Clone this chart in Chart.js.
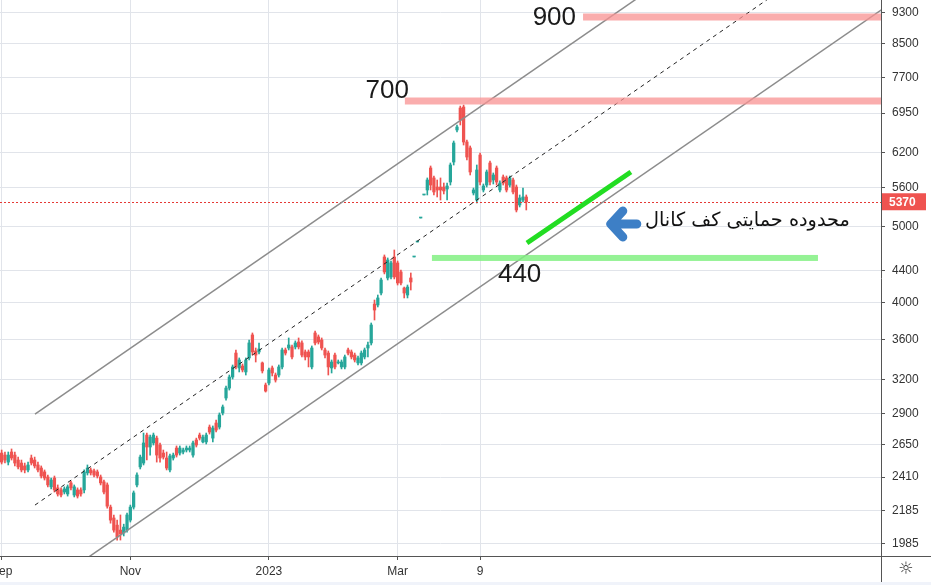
<!DOCTYPE html>
<html>
<head>
<meta charset="utf-8">
<script src="https://cdn.jsdelivr.net/npm/chart.js@4.4.1/dist/chart.umd.min.js"></script>
<style>
  html, body { margin: 0; padding: 0; background: #fff; }
  canvas { display: block; }
</style>
</head>
<body>
<canvas id="priceChart" width="931" height="585"></canvas>
<script>
// daily candles (price in rial)
const opens = [2585,2570,2518,2593,2570,2533,2511,2490,2461,2548,2533,2497,2475,2447,2411,2343,2404,2336,2322,2308,
  2295,2370,2288,2322,2322,2322,2440,2461,2454,2447,2411,2377,2356,2209,2140,2096,2066,2049,2066,2127,
  2209,2356,2483,2511,2724,2631,2662,2700,2646,2585,2548,2461,2548,2623,2585,2593,2608,2608,2570,2685,
  2724,2670,2670,2788,2700,2821,2788,2905,3034,3123,3225,3458,3311,3330,3273,3409,3645,3479,3469,3360,
  3151,3169,3311,3244,3244,3321,3489,3509,3520,3520,3571,3561,3469,3469,3321,3666,3624,3592,3489,3458,
  3311,3438,3360,3321,3321,3489,3469,3438,3360,3360,3419,3509,3561,3988,3977,4118,4573,4302,4315,4573,
  4494,4378,4178,4094,4302,4573,4777,5122,5477,5557,5924,5755,5605,5605,5605,5573,5688,6028,6617,7054,
  7074,6390,6280,5509,5397,6152,5557,5638,6011,5721,5924,5557,5771,5755,5638,5721,5605,5320,5397,5445];
const highs = [2608,2593,2593,2616,2593,2555,2533,2511,2518,2570,2555,2518,2490,2461,2425,2404,2418,2356,2336,2343,
  2356,2383,2356,2336,2336,2461,2497,2475,2468,2461,2425,2390,2370,2222,2159,2127,2159,2102,2171,2222,
  2315,2440,2570,2740,2740,2724,2740,2716,2662,2608,2593,2578,2585,2639,2639,2623,2639,2639,2677,2700,
  2740,2724,2740,2805,2797,2846,2905,2973,3142,3244,3340,3489,3409,3350,3409,3592,3666,3509,3561,3369,
  3169,3311,3330,3263,3340,3509,3509,3613,3540,3582,3613,3582,3489,3489,3530,3687,3645,3613,3509,3479,
  3389,3458,3389,3389,3438,3509,3489,3458,3428,3479,3509,3571,3774,4035,4094,4302,4600,4560,4520,4667,
  4520,4403,4190,4215,4365,4573,4777,5122,5477,5755,5959,5788,5721,5755,5671,5671,6011,6408,6714,7094,
  7115,6427,6316,5589,5976,6188,5655,5890,6045,5839,5959,5705,5805,5788,5788,5755,5638,5477,5589,5477];
const lows = [2504,2511,2497,2533,2490,2468,2447,2440,2447,2497,2475,2447,2404,2390,2343,2329,2308,2281,2275,2295,
  2281,2322,2275,2268,2281,2302,2425,2425,2411,2404,2356,2295,2202,2108,2054,2007,2007,2031,2054,2115,
  2196,2343,2468,2497,2533,2570,2646,2518,2518,2540,2461,2447,2533,2555,2570,2578,2593,2593,2555,2631,
  2685,2662,2654,2732,2670,2748,2772,2888,3016,3105,3206,3302,3273,3273,3244,3389,3438,3369,3448,3263,
  3087,3151,3235,3178,3225,3302,3438,3489,3399,3499,3499,3419,3389,3321,3302,3540,3550,3489,3409,3244,
  3263,3302,3350,3302,3302,3438,3399,3369,3340,3340,3399,3419,3540,3807,3954,4094,4353,4277,4290,4290,
  4215,4215,4059,4059,4154,4573,4777,5122,5477,5477,5557,5477,5445,5397,5493,5397,5638,5976,6578,6714,
  6334,6063,5805,5477,5351,5638,5525,5605,5638,5655,5638,5525,5638,5525,5605,5493,5213,5289,5366,5243];
const closes = [2518,2533,2570,2548,2511,2483,2461,2461,2497,2511,2490,2461,2418,2404,2356,2390,2322,2295,2288,2329,
  2343,2336,2343,2281,2295,2447,2475,2440,2425,2418,2370,2308,2215,2127,2066,2025,2043,2084,2159,2209,
  2302,2425,2555,2662,2631,2708,2724,2570,2548,2555,2475,2563,2570,2570,2623,2608,2623,2623,2662,2646,
  2700,2708,2724,2748,2780,2764,2888,2956,3123,3225,3321,3321,3389,3292,3389,3561,3469,3438,3499,3283,
  3096,3292,3263,3197,3321,3489,3458,3540,3419,3561,3520,3438,3419,3419,3509,3561,3571,3509,3438,3321,
  3369,3321,3369,3369,3419,3458,3419,3389,3409,3458,3489,3540,3752,3919,4059,4277,4378,4533,4494,4315,
  4240,4240,4118,4190,4252,4573,4777,5122,5477,5721,5638,5525,5557,5557,5541,5622,5976,6371,6675,6812,
  6390,6116,5856,5557,5890,5688,5622,5856,5688,5805,5688,5671,5671,5557,5755,5525,5243,5429,5445,5370];

const slotCount = 267;               // bars incl. empty space on the right
const tickSlots = [0, 39, 81, 120, 145];
const tickLabels = ['Sep', 'Nov', '2023', 'Mar', '9'];
const yTicks = [1985, 2185, 2410, 2650, 2900, 3200, 3600, 4000, 4400, 5000, 5600, 6200, 6950, 7700, 8500, 9300];
const lastPrice = 5370;

// drawings on the chart: [slot, price]
const channelUpper = [[10.1, 2896], [196.5, 9956]];
const channelMid = [[10.1, 2222], [232.8, 9720]];
const channelLower = [[20.7, 1840], [269.2, 9547]];
const supportSeg = [[159.2, 4763], [190.7, 5856]];
const levels = [
  { text: '900', price: 9192, from: 176.2 },
  { text: '700', price: 7199, from: 122.2 }
];
const supportLevel = { text: '440', price: 4560, from: 130.4, to: 247.4 };
const noteAnchor = [183.4, 5033];
const noteText = 'محدوده حمایتی کف کانال';

const UP = '#26a69a', DOWN = '#ef5350';
const slots = Array.from({ length: slotCount }, (_, i) => i);
const colors = opens.map((o, i) => closes[i] >= o ? UP : DOWN);
const bodies = opens.map((o, i) => [o, closes[i]]);
const wicks = lows.map((l, i) => [l, highs[i]]);

const overlay = {
  id: 'overlay',
  afterDatasetsDraw(chart) {
    const { ctx, chartArea: a, scales: { x, y } } = chart;
    const pt = p => [x.getPixelForValue(p[0]), y.getPixelForValue(p[1])];
    ctx.save();
    ctx.beginPath();
    ctx.rect(a.left, a.top, a.right - a.left, a.bottom - a.top);
    ctx.clip();

    // last price line
    const ly = Math.round(y.getPixelForValue(lastPrice)) + 0.5;
    ctx.strokeStyle = '#e53935';
    ctx.lineWidth = 1;
    ctx.setLineDash([2, 2]);
    ctx.beginPath(); ctx.moveTo(a.left, ly); ctx.lineTo(a.right, ly); ctx.stroke();

    // channel
    ctx.setLineDash([]);
    ctx.strokeStyle = '#8c8c8c';
    ctx.lineWidth = 1.5;
    [channelUpper, channelLower].forEach(l => {
      const p1 = pt(l[0]), p2 = pt(l[1]);
      ctx.beginPath(); ctx.moveTo(p1[0], p1[1]); ctx.lineTo(p2[0], p2[1]); ctx.stroke();
    });
    ctx.strokeStyle = '#222';
    ctx.lineWidth = 1;
    ctx.setLineDash([4, 4]);
    let m1 = pt(channelMid[0]), m2 = pt(channelMid[1]);
    ctx.beginPath(); ctx.moveTo(m1[0], m1[1]); ctx.lineTo(m2[0], m2[1]); ctx.stroke();
    ctx.setLineDash([]);

    // resistance bands
    ctx.fillStyle = 'rgba(248, 145, 145, 0.75)';
    levels.forEach(l => {
      const yy = y.getPixelForValue(l.price);
      const x0 = x.getPixelForValue(l.from);
      ctx.fillRect(x0, yy - 3.5, a.right - x0, 7);
    });
    // support band
    const sy = y.getPixelForValue(supportLevel.price);
    const sx0 = x.getPixelForValue(supportLevel.from), sx1 = x.getPixelForValue(supportLevel.to);
    ctx.fillStyle = 'rgba(130, 240, 130, 0.85)';
    ctx.fillRect(sx0, sy - 3, sx1 - sx0, 6);

    // channel floor segment
    const g1 = pt(supportSeg[0]), g2 = pt(supportSeg[1]);
    ctx.strokeStyle = '#22dd22';
    ctx.lineWidth = 5;
    ctx.beginPath(); ctx.moveTo(g1[0], g1[1]); ctx.lineTo(g2[0], g2[1]); ctx.stroke();

    // labels
    ctx.fillStyle = '#1a1a1a';
    ctx.font = '26px "Liberation Sans", Arial, sans-serif';
    ctx.textBaseline = 'middle';
    ctx.textAlign = 'right';
    let l900 = levels[0];
    ctx.fillText(l900.text, x.getPixelForValue(l900.from) - 7, y.getPixelForValue(l900.price) + 1);
    let l700 = levels[1];
    ctx.fillText(l700.text, x.getPixelForValue(l700.from) + 4, y.getPixelForValue(l700.price) - 10);
    ctx.textAlign = 'left';
    ctx.fillText(supportLevel.text, sx0 + 66, sy + 17);

    // arrow + note
    const [ax, ay] = pt(noteAnchor);
    ctx.strokeStyle = '#3d7fc6';
    ctx.lineWidth = 9;
    ctx.lineCap = 'round';
    ctx.lineJoin = 'round';
    ctx.beginPath();
    ctx.moveTo(ax + 16, ay - 13); ctx.lineTo(ax + 4, ay); ctx.lineTo(ax + 16, ay + 13);
    ctx.moveTo(ax + 4, ay); ctx.lineTo(ax + 30, ay);
    ctx.stroke();

    ctx.fillStyle = '#111';
    let fs = 20;
    ctx.font = fs + 'px "DejaVu Sans", sans-serif';
    const w = ctx.measureText(noteText).width;
    fs = fs * 205 / w;
    ctx.font = fs.toFixed(1) + 'px "DejaVu Sans", sans-serif';
    ctx.direction = 'rtl';
    ctx.textAlign = 'right';
    ctx.fillText(noteText, ax + 243, ay - 3);
    ctx.restore();
  },
  afterDraw(chart) {
    const { ctx, chartArea: a, scales: { y } } = chart;
    ctx.save();
    // price tag on axis
    const ly = y.getPixelForValue(lastPrice);
    ctx.fillStyle = '#ef5350';
    ctx.fillRect(a.right + 1, ly - 8.5, 44, 17);
    ctx.fillStyle = '#fff';
    ctx.font = 'bold 12px "Liberation Sans", Arial, sans-serif';
    ctx.textBaseline = 'middle';
    ctx.textAlign = 'left';
    ctx.fillText(String(lastPrice), a.right + 8, ly + 0.5);

    // corner box
    ctx.strokeStyle = '#555';
    ctx.lineWidth = 1;
    ctx.beginPath();
    ctx.moveTo(a.right, a.bottom + 0.5); ctx.lineTo(chart.width, a.bottom + 0.5);
    ctx.moveTo(a.right + 0.5, a.bottom); ctx.lineTo(a.right + 0.5, chart.height);
    ctx.stroke();
    ctx.fillStyle = '#f0f3fa';
    ctx.fillRect(0, chart.height - 3, chart.width, 3);
    ctx.fillStyle = '#333';
    ctx.font = '17px "DejaVu Sans", sans-serif';
    ctx.textAlign = 'center';
    ctx.fillText('☼', (a.right + chart.width) / 2, a.bottom + 14);
    ctx.restore();
  }
};

const tickFont = { family: '"Liberation Sans", Arial, sans-serif', size: 12 };

new Chart(document.getElementById('priceChart'), {
  type: 'bar',
  data: {
    labels: slots,
    datasets: [{
      label: 'body',
      data: bodies,
      backgroundColor: colors,
      barThickness: 2.6,
      minBarLength: 1,
      grouped: false
    }, {
      label: 'wick',
      data: wicks,
      backgroundColor: colors,
      barThickness: 1,
      grouped: false
    }]
  },
  options: {
    responsive: false,
    animation: false,
    devicePixelRatio: 1,
    layout: { padding: 0 },
    plugins: { legend: { display: false }, tooltip: { enabled: false } },
    scales: {
      x: {
        offset: true,
        grid: { offset: false, color: '#e1e4ea', tickColor: '#555', tickLength: 4 },
        border: { color: '#555' },
        ticks: {
          autoSkip: false, maxRotation: 0, padding: 4, color: '#333', font: tickFont,
          callback: v => tickLabels[tickSlots.indexOf(v)]
        },
        afterBuildTicks: s => { s.ticks = tickSlots.map(v => ({ value: v })); },
        afterFit: s => { s.height = 29; s.paddingLeft = 0; s.paddingRight = 0; }
      },
      y: {
        type: 'logarithmic',
        position: 'right',
        min: 1916,
        max: 9658,
        grid: { color: '#e1e4ea', tickColor: '#555', tickLength: 4 },
        border: { color: '#555' },
        ticks: { autoSkip: false, padding: 7, color: '#333', font: tickFont, callback: v => String(v) },
        afterBuildTicks: s => { s.ticks = yTicks.map(v => ({ value: v })); },
        afterFit: s => { s.width = 50; s.paddingTop = 0; s.paddingBottom = 0; }
      }
    }
  },
  plugins: [overlay]
});
</script>
</body>
</html>
